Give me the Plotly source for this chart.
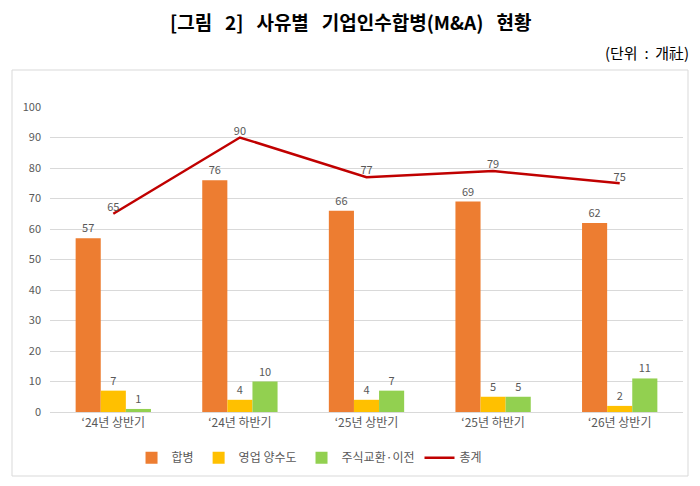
import plotly.graph_objects as go

categories = ["‘24년 상반기", "‘24년 하반기", "‘25년 상반기", "‘25년 하반기", "‘26년 상반기"]
merger = [57, 76, 66, 69, 62]
transfer = [7, 4, 4, 5, 2]
exchange = [1, 10, 7, 5, 11]
total = [65, 90, 77, 79, 75]

FONT = "Noto Sans CJK KR"
LBL = "#595959"
S = "\u00a0"

fig = go.Figure()
for name, vals, col in [("합병", merger, "#ED7D31"), ("영업 양수도", transfer, "#FFC000"), ("주식교환·이전", exchange, "#92D050")]:
    fig.add_trace(go.Bar(x=categories, y=vals, name=name, marker=dict(color=col, line=dict(width=0)),
                         text=vals, textposition="outside", cliponaxis=False,
                         textfont=dict(family=FONT, size=11, color=LBL)))
fig.add_trace(go.Scatter(x=categories, y=total, name="총계", mode="lines+text",
                         line=dict(color="#C00000", width=2.5), text=total, textposition="top center",
                         textfont=dict(family=FONT, size=11, color=LBL), cliponaxis=False))

fig.update_layout(
    width=700, height=486, margin=dict(l=50, r=17, t=107, b=74),
    paper_bgcolor="white", plot_bgcolor="white",
    font=dict(family=FONT, color=LBL),
    barmode="group", bargap=0.405, bargroupgap=0,
    showlegend=True,
    legend=dict(orientation="h", x=0.41, xanchor="center", y=-0.15, yanchor="middle",
                font=dict(family=FONT, size=12, color=LBL), traceorder="normal", itemwidth=30),
    yaxis=dict(range=[0, 100], dtick=10, showgrid=True, gridcolor="#D9D9D9", gridwidth=1,
               zeroline=False, showline=False, tickfont=dict(family=FONT, size=11, color=LBL),
               ticks="", ticklabelstandoff=8),
    xaxis=dict(showline=True, linecolor="#D9D9D9", linewidth=1, ticks="",
               tickfont=dict(family=FONT, size=12, color=LBL)),
    shapes=[dict(type="rect", xref="paper", yref="paper", x0=-38/633, x1=(688-50)/633,
                 y0=(412-476)/305, y1=(412-70)/305, line=dict(color="#D9D9D9", width=1), layer="below")],
    annotations=[
        dict(text="<b>[그림" + S*3 + "2]" + S*3 + "사유별" + S*3 + "기업인수합병(M&A)" + S*3 + "현황</b>",
             xref="paper", yref="paper",
             x=(350-50)/633, y=(412-22)/305, xanchor="center", yanchor="middle", showarrow=False,
             font=dict(family=FONT, size=19, color="#000000")),
        dict(text="(단위" + S*2 + ":" + S*2 + "개社)", xref="paper", yref="paper", x=(691-50)/633, y=(412-52)/305,
             xanchor="right", yanchor="middle", showarrow=False,
             font=dict(family=FONT, size=15, color="#000000")),
    ],
)
fig.write_html("out.html")
